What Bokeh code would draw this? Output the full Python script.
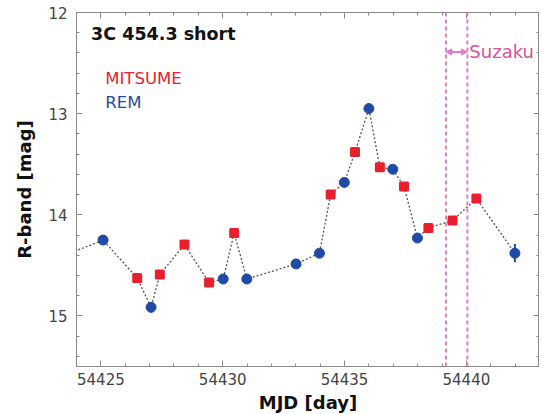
from bokeh.plotting import figure
from bokeh.models import (Range1d, LinearAxis, SingleIntervalTicker, Label, Span,
                          Arrow, NormalHead, CustomJSTickFormatter)
from bokeh.embed import file_html
from bokeh.resources import INLINE

# ---- data ----
mitsume_mjd = [54426.49, 54427.42, 54428.43, 54429.44, 54430.47, 54434.43,
               54435.43, 54436.45, 54437.44, 54438.44, 54439.43, 54440.41]
mitsume_mag = [14.625, 14.59, 14.295, 14.67, 14.18, 13.80,
               13.38, 13.53, 13.72, 14.13, 14.056, 13.84]

rem_mjd = [54423.0, 54425.09, 54427.06, 54430.02, 54430.99, 54433.01, 54433.97,
           54434.99, 54436.00, 54436.98, 54437.99, 54441.99]
rem_mag = [14.45, 14.25, 14.915, 14.635, 14.635, 14.486, 14.38,
           13.68, 12.95, 13.55, 14.23, 14.38]
rem_err = [0.03, 0.045, 0.05, 0.02, 0.02, 0.02, 0.02,
           0.02, 0.02, 0.02, 0.02, 0.09]

suzaku_start = 54439.16
suzaku_end = 54440.04
suzaku_arrow_mag = 12.39

x_major_ticks = 5
y_major_ticks = 1

RED = "#e8202e"
BLUE = "#1f4aa5"
PINK = "#e27cc4"
PINK_TEXT = "#d8509f"
FRAME = "#8a8a8a"

p = figure(frame_width=463, frame_height=354, output_backend="svg",
           toolbar_location=None,
           x_range=Range1d(54424, 54443), y_range=Range1d(15.5, 12),
           min_border_left=76, min_border_top=12, min_border_right=0,
           min_border_bottom=0)
p.grid.visible = False
p.outline_line_color = FRAME
p.background_fill_color = "white"

def style_axis(ax, labels=True):
    ax.axis_line_color = FRAME
    ax.major_tick_line_color = FRAME
    ax.minor_tick_line_color = FRAME
    ax.major_tick_in = 6
    ax.major_tick_out = 0
    ax.minor_tick_in = 3
    ax.minor_tick_out = 0
    if labels:
        ax.major_label_text_font = "DejaVu Sans"
        ax.major_label_text_font_size = "15px"
        ax.major_label_text_color = "#444444"
        ax.axis_label_text_font = "DejaVu Sans"
        ax.axis_label_text_font_size = "18px"
        ax.axis_label_text_font_style = "bold"
        ax.axis_label_text_color = "#111111"
    else:
        ax.formatter = CustomJSTickFormatter(code="return ''")
        ax.major_label_standoff = 0
        ax.major_label_text_font_size = "1px"

xt = SingleIntervalTicker(interval=x_major_ticks, num_minor_ticks=5)
yt = SingleIntervalTicker(interval=y_major_ticks, num_minor_ticks=5)

p.xaxis.ticker = xt
p.yaxis.ticker = yt
style_axis(p.xaxis[0])
style_axis(p.yaxis[0])
p.xaxis.axis_label = "MJD [day]"
p.yaxis.axis_label = "R-band [mag]"
p.xaxis.major_label_standoff = 6
p.yaxis.major_label_standoff = 9
p.xaxis.axis_label_standoff = 4
p.yaxis.axis_label_standoff = 10

ax_r = LinearAxis(ticker=SingleIntervalTicker(interval=y_major_ticks, num_minor_ticks=5))
style_axis(ax_r, labels=False)
p.add_layout(ax_r, "right")
ax_t = LinearAxis(ticker=SingleIntervalTicker(interval=x_major_ticks, num_minor_ticks=5))
style_axis(ax_t, labels=False)
p.add_layout(ax_t, "above")

# Suzaku window
for xv in (suzaku_start, suzaku_end):
    p.add_layout(Span(location=xv, dimension="height", line_color=PINK,
                      line_width=2, line_dash="4 3"))
p.add_layout(Arrow(start=NormalHead(size=6, fill_color=PINK, line_color=PINK),
                   end=NormalHead(size=6, fill_color=PINK, line_color=PINK),
                   x_start=suzaku_start, x_end=suzaku_end,
                   y_start=suzaku_arrow_mag, y_end=suzaku_arrow_mag,
                   line_color=PINK, line_width=2))
p.add_layout(Label(x=suzaku_end, y=suzaku_arrow_mag, x_offset=2, text="Suzaku",
                   text_font="DejaVu Sans", text_font_size="18px",
                   text_color=PINK_TEXT, text_baseline="middle"))

# connecting dotted line
pts = sorted(zip(mitsume_mjd + rem_mjd, mitsume_mag + rem_mag))
p.line([a for a, b in pts], [b for a, b in pts], line_color="#555555",
       line_width=1.3, line_dash="2 2")

# error bars
p.segment(x0=rem_mjd, x1=rem_mjd,
          y0=[m - e for m, e in zip(rem_mag, rem_err)],
          y1=[m + e for m, e in zip(rem_mag, rem_err)],
          line_color=BLUE, line_width=2)

p.scatter(mitsume_mjd, mitsume_mag, marker="square", size=7,
          fill_color=RED, line_color=RED, line_join="round", line_width=3)
p.scatter(rem_mjd, rem_mag, marker="circle", size=10,
          fill_color=BLUE, line_color=BLUE)

p.add_layout(Label(x=54424.6, y=12.215, text="3C 454.3 short",
                   text_font="DejaVu Sans", text_font_size="17.5px",
                   text_font_style="bold", text_color="#111111",
                   text_baseline="middle"))
p.add_layout(Label(x=54425.18, y=12.655, text="MITSUME",
                   text_font="DejaVu Sans", text_font_size="16.5px",
                   text_color=RED, text_baseline="middle"))
p.add_layout(Label(x=54425.18, y=12.886, text="REM",
                   text_font="DejaVu Sans", text_font_size="16.5px",
                   text_color=BLUE, text_baseline="middle"))

open("out.html", "w").write(file_html(p, INLINE))
